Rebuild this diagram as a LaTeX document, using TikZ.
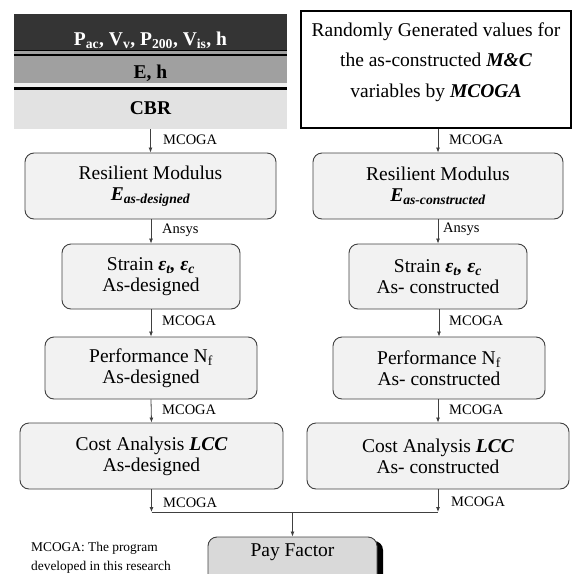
\documentclass[tikz,border=0pt]{standalone}
\usepackage{fontspec}
\setmainfont{Liberation Serif}
\usetikzlibrary{arrows.meta,shadows}
\newcommand\bigfnt{\fontsize{19.5}{21}\selectfont}
\newcommand\lblfnt{\fontsize{14.5}{16}\selectfont}
\newcommand\notefnt{\fontsize{13.4}{19}\selectfont}
\newcommand\bi[1]{{\bfseries\itshape #1}}
\definecolor{boxline}{HTML}{404040}
\definecolor{boxfill}{HTML}{F2F2F2}
\definecolor{darkband}{HTML}{343434}
\definecolor{midband}{HTML}{A0A0A0}
\definecolor{lightband}{HTML}{E2E2E2}
\definecolor{payfill}{HTML}{D9D9D9}
\begin{document}
\begin{tikzpicture}[x=1pt,y=-1pt,
  box/.style={draw=boxline,fill=boxfill,rounded corners=9pt,line width=0.9pt,align=center,inner sep=0pt,font=\bigfnt},
  lbl/.style={anchor=west,inner sep=0pt,font=\lblfnt},
  arr/.style={draw=boxline,line width=0.8pt,-{Latex[length=5pt,width=4pt]}},
  conn/.style={draw=boxline,line width=0.8pt},
  band/.style={inner sep=0pt,font=\bigfnt\bfseries}]
\useasboundingbox (0,0) rectangle (573,574);
\clip (0,0) rectangle (573,574);
% layered block
\fill[darkband] (14,14) rectangle (287,51);
\fill[midband] (14,51) rectangle (287,83);
\fill[lightband] (14,83) rectangle (287,129);
\draw[black,line width=1.5pt] (14,50.5) -- (287,50.5);
\draw[black,line width=2pt] (14,54.5) -- (287,54.5);
\fill[white!85!midband] (14,83) rectangle (287,87);
\draw[black,line width=2.5pt] (14,88.5) -- (287,88.5);
\node[inner sep=0pt,minimum width=273pt,minimum height=115pt] (layers) at (150.5,71.5) {};
\node[band,text=white] (t1) at (150.5,40) {P\textsubscript{ac}, V\textsubscript{v}, P\textsubscript{200}, V\textsubscript{is}, h};
\node[band] (t2) at (150.5,73) {E, h};
\node[band] (t3) at (150.5,108) {CBR};
% right top box
\node[draw=black,line width=1.8pt,fill=white,minimum width=270pt,minimum height=117pt,inner sep=0pt] (rbox) at (436,69.5) {};
\node[align=center,inner sep=0pt,font=\fontsize{19.5}{30.5}\selectfont] (rtext) at (436,62) {Randomly Generated values for\\the as-constructed \bi{M\&C}\\variables by \bi{MCOGA}};
% left column
\node[box,minimum width=251pt,minimum height=66pt] (lres) at (150.5,186) {Resilient Modulus\\\bi{E}\textsubscript{\bi{as-designed}}};
\node[box,minimum width=178pt,minimum height=65pt] (lstr) at (151,276.5) {Strain \bi{ε\textsubscript{t}, ε\textsubscript{c}}\\As-designed};
\node[box,minimum width=212pt,minimum height=62pt] (lperf) at (151,368) {Performance N\textsubscript{f}\\As-designed};
\node[box,minimum width=263pt,minimum height=66pt] (lcost) at (151.5,456) {Cost Analysis \bi{LCC}\\As-designed};
% right column
\node[box,minimum width=250pt,minimum height=66pt] (rres) at (438,186) {Resilient Modulus\\\bi{E}\textsubscript{\bi{as-constructed}}};
\node[box,minimum width=178pt,minimum height=65pt] (rstr) at (438,276.5) {Strain \bi{ε\textsubscript{t}, ε\textsubscript{c}}\\As- constructed};
\node[box,minimum width=212pt,minimum height=62pt] (rperf) at (439,368) {Performance N\textsubscript{f}\\As- constructed};
\node[box,minimum width=262pt,minimum height=66pt] (rcost) at (438,456) {Cost Analysis \bi{LCC}\\As- constructed};
% pay factor
\node[draw=boxline,fill=payfill,rounded corners=9pt,line width=0.9pt,inner sep=0pt,
  minimum width=169pt,minimum height=60pt,font=\bigfnt,
  drop shadow={shadow xshift=6pt,shadow yshift=-4pt,fill=black,opacity=1}] (pay) at (292.5,567) {};
\node[inner sep=0pt,font=\bigfnt] (paytext) at (292.5,552) {Pay Factor};
% arrows left
\draw[arr] (layers.south -| lres.north) -- (lres.north);
\draw[arr] (lres.south -| lstr.north) -- (lstr.north);
\draw[arr] (lstr.south) -- (lperf.north);
\draw[arr] (lperf.south) -- (lcost.north);
% arrows right
\draw[arr] (rbox.south -| rres.north) -- (rres.north);
\draw[arr] (rres.south) -- (rstr.north);
\draw[arr] (rstr.south -| rperf.north) -- (rperf.north);
\draw[arr] (rperf.south -| rcost.north) -- (rcost.north);
% merge
\coordinate (j) at (292.5,512);
\draw[arr] (lcost.south) -- (lcost.south |- j);
\draw[arr] (rcost.south) -- (rcost.south |- j);
\draw[conn] (lcost.south |- j) -- (rcost.south |- j);
\draw[arr] (j) -- (pay.north);
% labels
\node[lbl] (m1) at (163,140) {MCOGA};
\node[lbl] (m2) at (449,140) {MCOGA};
\node[lbl] (a1) at (162,230) {Ansys};
\node[lbl] (a2) at (443,229) {Ansys};
\node[lbl] (m3) at (162,321) {MCOGA};
\node[lbl] (m4) at (449,321) {MCOGA};
\node[lbl] (m5) at (162,410) {MCOGA};
\node[lbl] (m6) at (449,410) {MCOGA};
\node[lbl] (m7) at (163,503) {MCOGA};
\node[lbl] (m8) at (451,502) {MCOGA};
\node[anchor=west,inner sep=0pt,align=left,font=\notefnt] (note) at (31,558) {MCOGA: The program\\developed in this research};
\end{tikzpicture}
\end{document}
